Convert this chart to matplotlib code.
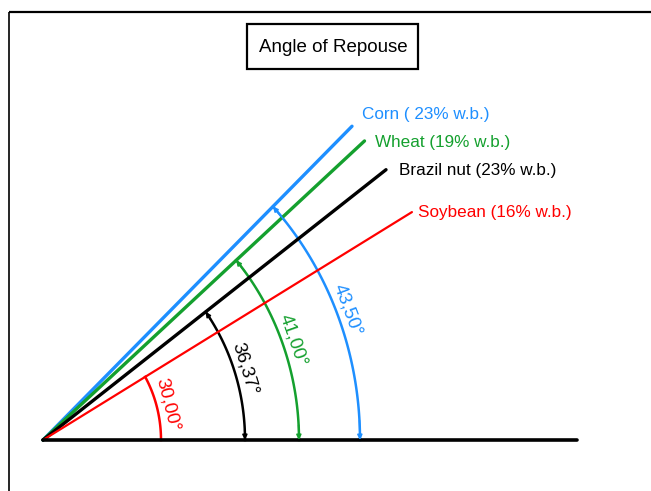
import numpy as np
import matplotlib
matplotlib.use('Agg')
import matplotlib.pyplot as plt
from matplotlib.patches import Rectangle

plt.rcParams['font.family'] = ['Liberation Sans', 'DejaVu Sans']

# données : angles de repos
grains = ['Corn ( 23% w.b.)', 'Wheat (19% w.b.)', 'Brazil nut (23% w.b.)', 'Soybean (16% w.b.)']
angles = [43.50, 41.00, 36.37, 30.00]
etiquettes = ['43,50°', '41,00°', '36,37°', '30,00°']
couleurs = ['#1e8fff', '#14a02e', '#000000', '#ff0000']
rayons_arc = [317, 256, 202, 118]
longueur = 426
ech_y = 1.07  # le dessin d'origine est un peu étiré en hauteur

fig = plt.figure(figsize=(6.51, 4.91), dpi=100)
ax = fig.add_axes([0, 0, 1, 1])
ax.set_xlim(-43, 651 - 43)
ax.set_ylim(-51 / ech_y, 440 / ech_y)
ax.axis('off')

# cadre (haut et gauche)
ax.plot([8.5 / 651, 1], [1 - 12 / 491, 1 - 12 / 491], color='black', lw=1.6,
        transform=ax.transAxes, solid_capstyle='butt')
ax.plot([8.5 / 651, 8.5 / 651], [0, 1 - 12 / 491], color='black', lw=1.2,
        transform=ax.transAxes, solid_capstyle='butt')

# titre dans un cadre
fig.patches.append(Rectangle((247 / 651, 1 - 69 / 491), 171 / 651, 45 / 491,
                             transform=fig.transFigure, fill=False, lw=1.6, ec='black'))
fig.text(333 / 651, 1 - 47 / 491, 'Angle of Repouse', ha='center', va='center', fontsize=13.5)

# ligne de base
ax.plot([0, 534], [0, 0], color='black', lw=2.6, solid_capstyle='round', zorder=3)

for i in range(len(angles)):
    t = np.radians(angles[i])
    c = couleurs[i]
    lw = 2.4 if i != 3 else 1.6
    ax.plot([0, longueur * np.cos(t)], [0, longueur * np.sin(t)], color=c, lw=lw,
            solid_capstyle='round', zorder=2)

    # arc de l'angle
    r = rayons_arc[i]
    phi = np.linspace(0, t, 80)
    ax.plot(r * np.cos(phi), r * np.sin(phi), color=c, lw=1.8, zorder=2)
    if i != 3:
        for a0, a1 in [(phi[6], phi[0]), (phi[-7], phi[-1])]:
            ax.annotate('', xy=(r * np.cos(a1), r * np.sin(a1)),
                        xytext=(r * np.cos(a0), r * np.sin(a0)),
                        arrowprops=dict(arrowstyle='-|>', color=c, lw=1.2,
                                        mutation_scale=7, shrinkA=0, shrinkB=0))

    # étiquette de l'angle
    m = t / 2
    rl = r + 11
    rot = np.degrees(np.arctan2(-ech_y * np.cos(m), np.sin(m)))
    ax.text(rl * np.cos(m), rl * np.sin(m), etiquettes[i], color=c, fontsize=13.5,
            rotation=rot, ha='center', va='center', rotation_mode='anchor')

# noms des grains
pos_noms = [(362, 115), (375, 142), (399, 171), (418, 212)]
for i in range(len(grains)):
    px, py = pos_noms[i]
    ax.text(px - 43, (440 - py) / ech_y, grains[i], color=couleurs[i], fontsize=12.3,
            ha='left', va='center')

fig.savefig('out.png', dpi=100)
